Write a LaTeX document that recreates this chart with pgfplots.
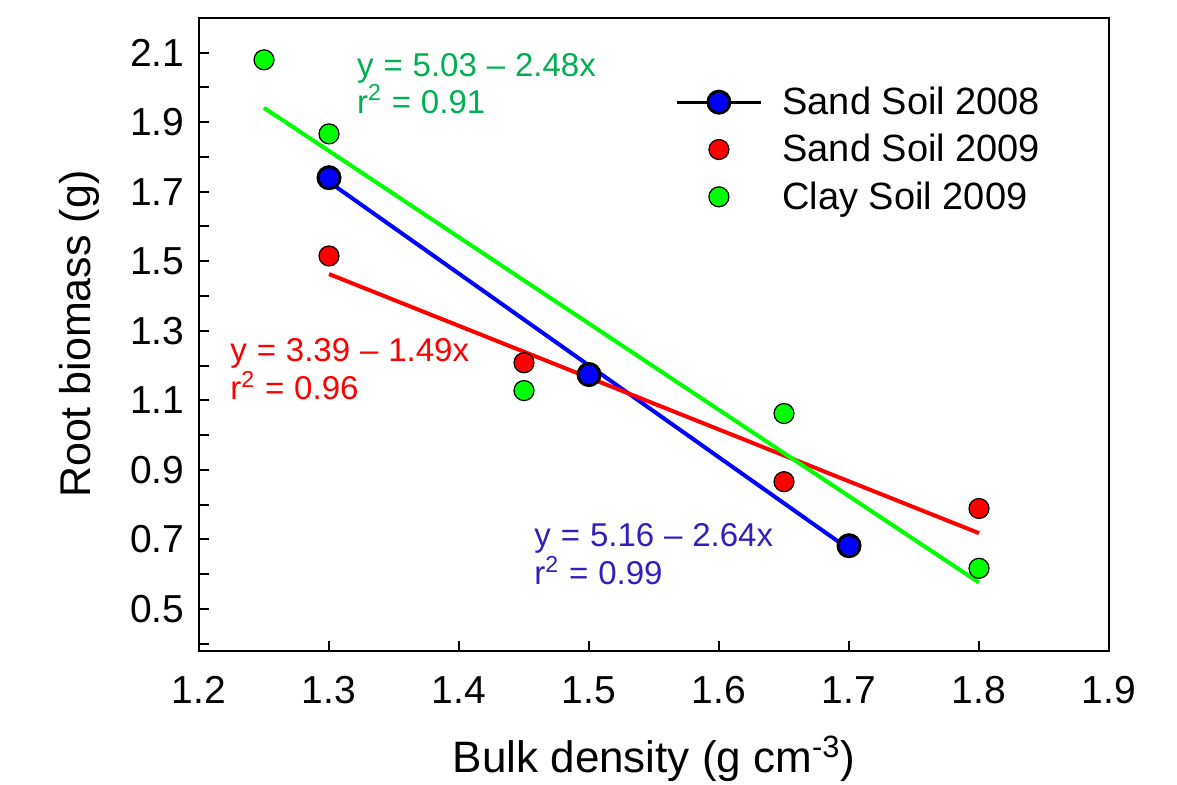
\documentclass[border=0pt]{standalone}
\usepackage{pgfplots}
\pgfplotsset{compat=1.18}
\usepackage{fontspec}
\setmainfont{Liberation Sans}
\definecolor{lgreen}{RGB}{0,255,0}
\definecolor{tgreen}{RGB}{0,176,80}
\definecolor{tblue}{RGB}{51,30,190}
\newcommand{\wsp}{\hspace{0.3em}}
\begin{document}
\begin{tikzpicture}
\begin{axis}[
  scale only axis, width=455pt, height=316.5pt,
  xmin=1.2, xmax=1.9, ymin=0.38, ymax=2.2,
  axis line style={line width=1pt},
  every tick/.style={line width=1pt, black},
  tick align=inside, tick pos=left,
  major tick length=5pt, minor tick length=5pt,
  xtick={1.2,1.3,1.4,1.5,1.6,1.7,1.8,1.9},
  ytick={0.5,0.7,0.9,1.1,1.3,1.5,1.7,1.9,2.1},
  minor ytick={0.4,0.6,0.8,1.0,1.2,1.4,1.6,1.8,2.0,2.2},
  /pgf/number format/assume math mode=true,
  /pgf/number format/fixed, /pgf/number format/fixed zerofill,
  /pgf/number format/precision=1,
  xticklabel style={font=\fontsize{19.5}{23}\selectfont, yshift=-9.3pt},
  yticklabel style={font=\fontsize{19.5}{23}\selectfont, xshift=-3.8pt},
  xlabel={Bulk density (g cm\textsuperscript{-3})},
  ylabel={Root biomass (g)},
  xlabel style={font=\fontsize{22}{26}\selectfont, at={(axis description cs:0.5,-0.1927)}, anchor=base},
  ylabel style={font=\fontsize{21.5}{25}\selectfont, at={(axis description cs:-0.1198,0.5)}, anchor=base},
  legend cell align=left,
  legend style={draw=none, fill=none, font=\fontsize{19}{23}\selectfont,
    at={(0.5165,0.904)}, anchor=north west, inner xsep=3pt, inner ysep=2pt,
    row sep=4.4pt, column sep=8pt},
  clip=false,
]
\coordinate (bl) at (rel axis cs:-0.2187,-0.2117);
\coordinate (tr) at (rel axis cs:1.0747,1.028);

\addplot[only marks, mark=*, mark size=5.5pt,
  mark options={fill=blue, draw=black, line width=1.5pt},
  legend image code/.code={\draw[black, line width=1.5pt] (-21pt,0pt) -- (21pt,0pt);
    \draw[fill=blue, draw=black, line width=1.5pt] (0pt,0pt) circle (5.5pt);}]
  coordinates {(1.3,1.74) (1.5,1.174) (1.7,0.682)};
\addlegendentry{Sand Soil 2008}

\addplot[only marks, mark=*, mark size=5pt,
  mark options={fill=red, draw=black, line width=0.6pt},
  legend image code/.code={\draw[fill=red, draw=black, line width=0.6pt] (0pt,0pt) circle (5pt);}]
  coordinates {(1.3,1.515) (1.45,1.208) (1.65,0.866) (1.8,0.789)};
\addlegendentry{Sand Soil 2009}

\addplot[only marks, mark=*, mark size=5pt,
  mark options={fill=lgreen, draw=black, line width=0.6pt},
  legend image code/.code={\draw[fill=lgreen, draw=black, line width=0.6pt] (0pt,0pt) circle (5pt);}]
  coordinates {(1.25,2.079) (1.3,1.866) (1.45,1.128) (1.65,1.062) (1.8,0.617)};
\addlegendentry{Clay Soil 2009}

\addplot[blue, line width=2pt, forget plot] coordinates {(1.3,1.728) (1.7,0.672)};
\addplot[red, line width=2pt, forget plot] coordinates {(1.3,1.463) (1.8,0.718)};
\addplot[lgreen, line width=2pt, forget plot] coordinates {(1.25,1.941) (1.8,0.576)};

\node[anchor=base west, inner sep=0pt, text=tgreen, font=\fontsize{16.5}{19}\selectfont] at (axis cs:1.3213,2.031) {y\wsp=\wsp5.03\wsp–\wsp2.48x};
\node[anchor=base west, inner sep=0pt, text=tgreen, font=\fontsize{16.5}{19}\selectfont] at (axis cs:1.3213,1.926) {r\textsuperscript{2}\wsp=\wsp0.91};
\node[anchor=base west, inner sep=0pt, text=red, font=\fontsize{16.5}{19}\selectfont] at (axis cs:1.2238,1.212) {y\wsp=\wsp3.39\wsp–\wsp1.49x};
\node[anchor=base west, inner sep=0pt, text=red, font=\fontsize{16.5}{19}\selectfont] at (axis cs:1.2238,1.102) {r\textsuperscript{2}\wsp=\wsp0.96};
\node[anchor=base west, inner sep=0pt, text=tblue, font=\fontsize{16.5}{19}\selectfont] at (axis cs:1.4577,0.679) {y\wsp=\wsp5.16\wsp–\wsp2.64x};
\node[anchor=base west, inner sep=0pt, text=tblue, font=\fontsize{16.5}{19}\selectfont] at (axis cs:1.4577,0.570) {r\textsuperscript{2}\wsp=\wsp0.99};
\end{axis}
\pgfresetboundingbox
\useasboundingbox (bl) rectangle (tr);
\end{tikzpicture}
\end{document}
